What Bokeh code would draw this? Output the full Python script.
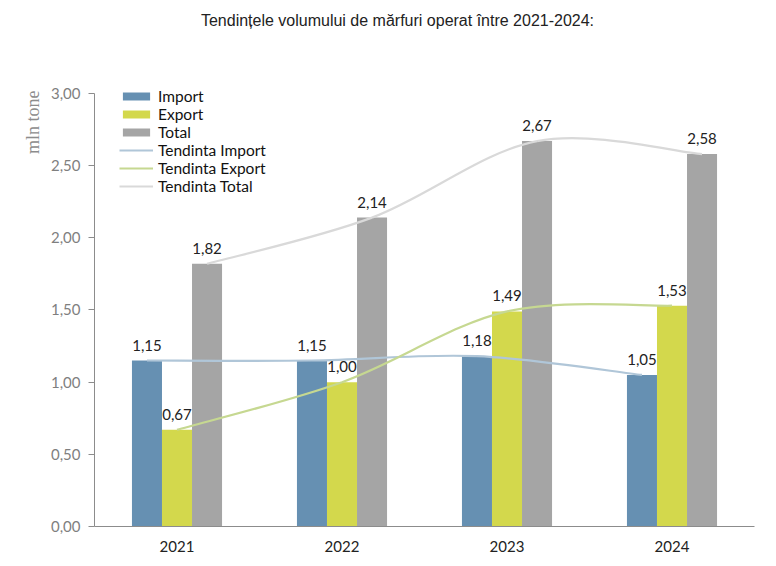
import numpy as np
from bokeh.plotting import figure
from bokeh.models import (ColumnDataSource, Legend, LegendItem, Title, Label, FixedTicker,
                          Range1d, CustomJSTickFormatter)
from bokeh.core.properties import value
from bokeh.embed import file_html
from bokeh.resources import INLINE

years = ["2021", "2022", "2023", "2024"]
import_vals = [1.15, 1.15, 1.18, 1.05]
export_vals = [0.67, 1.00, 1.49, 1.53]
total_vals = [1.82, 2.14, 2.67, 2.58]
y_ticks = [0.0, 0.5, 1.0, 1.5, 2.0, 2.5, 3.0]

C_IMP = "#6690b2"
C_EXP = "#d3d84c"
C_TOT = "#a5a5a5"
T_IMP = "#b0c6d8"
T_EXP = "#c6d891"
T_TOT = "#d9d9d9"

FONT = "Lato"

# frame spans from near the top of the canvas so that the title and legend are inside it
p = figure(width=764, height=560, output_backend="svg", toolbar_location=None,
           x_range=Range1d(0.5, 4.5), y_range=Range1d(0, 3.575),
           min_border_left=94, min_border_right=10, min_border_top=10,
           min_border_bottom=34)
p.outline_line_color = None
p.grid.visible = False
p.background_fill_color = "white"
p.border_fill_color = "white"

xs = np.arange(1, len(years) + 1, dtype=float)
bw = 0.182
offsets = [-bw, 0.0, bw]
series = [(import_vals, C_IMP, "Import"), (export_vals, C_EXP, "Export"), (total_vals, C_TOT, "Total")]
trend_cols = [T_IMP, T_EXP, T_TOT]

bar_renderers = []
for (vals, col, name), off in zip(series, offsets):
    src = ColumnDataSource(dict(x=xs + off, top=vals))
    r = p.vbar(x="x", top="top", width=bw, source=src, fill_color=col, line_color=None)
    bar_renderers.append(r)

trend_renderers = []
for (vals, col, name), off, tcol in zip(series, offsets, trend_cols):
    px = list(xs + off)
    py = list(vals)
    n = len(px)
    x0, y0, x1, y1, cx0, cy0, cx1, cy1 = [], [], [], [], [], [], [], []
    for i in range(n - 1):
        pm = max(i - 1, 0)
        pp = min(i + 2, n - 1)
        x0.append(px[i]); y0.append(py[i]); x1.append(px[i + 1]); y1.append(py[i + 1])
        cx0.append(px[i] + (px[i + 1] - px[pm]) / 6); cy0.append(py[i] + (py[i + 1] - py[pm]) / 6)
        cx1.append(px[i + 1] - (px[pp] - px[i]) / 6); cy1.append(py[i + 1] - (py[pp] - py[i]) / 6)
    p.bezier(x0=x0, y0=y0, x1=x1, y1=y1, cx0=cx0, cy0=cy0, cx1=cx1, cy1=cy1,
             line_color=tcol, line_width=2.2)
    lr = p.line(x=[px[0], px[0]], y=[py[0], py[0]], line_color=tcol, line_width=2.2)
    trend_renderers.append(lr)

for (vals, col, name), off in zip(series, offsets):
    src = ColumnDataSource(dict(x=xs + off, y=vals,
                                lab=[f"{v:.2f}".replace(".", ",") for v in vals]))
    p.text(x="x", y="y", text="lab", source=src, text_align="center",
           text_baseline="bottom", y_offset=-10, text_font=value(FONT),
           text_font_size="15px", text_color="#222222")

p.yaxis.ticker = FixedTicker(ticks=y_ticks)
p.yaxis.bounds = (0, 3.0)
p.yaxis.formatter = CustomJSTickFormatter(code="return tick.toFixed(2).replace('.', ',');")
p.yaxis.axis_line_color = "#8c8c8c"
p.yaxis.major_tick_line_color = "#8c8c8c"
p.yaxis.major_tick_out = 6
p.yaxis.major_tick_in = 0
p.yaxis.minor_tick_line_color = None
p.yaxis.major_label_text_font = FONT
p.yaxis.major_label_text_font_size = "15px"
p.yaxis.major_label_text_color = "#7f7f7f"
p.yaxis.major_label_standoff = 8

p.xaxis.ticker = FixedTicker(ticks=list(xs))
p.xaxis.formatter = CustomJSTickFormatter(code="return String(2020 + Math.round(tick));")
p.xaxis.axis_line_color = "#8c8c8c"
p.xaxis.major_tick_line_color = None
p.xaxis.major_tick_out = 0
p.xaxis.major_tick_in = 0
p.xaxis.minor_tick_line_color = None
p.xaxis.minor_tick_out = 0
p.xaxis.major_label_text_font = FONT
p.xaxis.major_label_text_font_size = "15px"
p.xaxis.major_label_text_color = "#222222"
p.xaxis.major_label_standoff = 14

legend = Legend(items=[
    LegendItem(label="Import", renderers=[bar_renderers[0]]),
    LegendItem(label="Export", renderers=[bar_renderers[1]]),
    LegendItem(label="Total", renderers=[bar_renderers[2]]),
    LegendItem(label="Tendinta Import", renderers=[trend_renderers[0]]),
    LegendItem(label="Tendinta Export", renderers=[trend_renderers[1]]),
    LegendItem(label="Tendinta Total", renderers=[trend_renderers[2]]),
], location=(25, 331))
legend.padding = 0
legend.margin = 0
legend.spacing = 0
legend.glyph_width = 34
legend.glyph_height = 10
legend.label_height = 18
legend.label_standoff = 5
legend.label_text_font = FONT
legend.label_text_font_size = "15.5px"
legend.label_text_color = "#111111"
legend.background_fill_alpha = 0
legend.border_line_color = None
p.add_layout(legend)

title = Label(x=303, y=506, x_units="screen", y_units="screen",
              text="Tendințele volumului de mărfuri operat între 2021-2024:",
              text_font="Liberation Sans", text_font_size="16px",
              text_color="#222222", text_align="center", text_baseline="middle")
p.add_layout(title)

ylab = Title(text="mln tone", text_font="Liberation Serif", text_font_size="18px",
             text_font_style="normal", text_color="#8c8c8c", align="right",
             standoff=10, offset=80)
p.add_layout(ylab, "left")

open("out.html", "w").write(file_html(p, INLINE))
